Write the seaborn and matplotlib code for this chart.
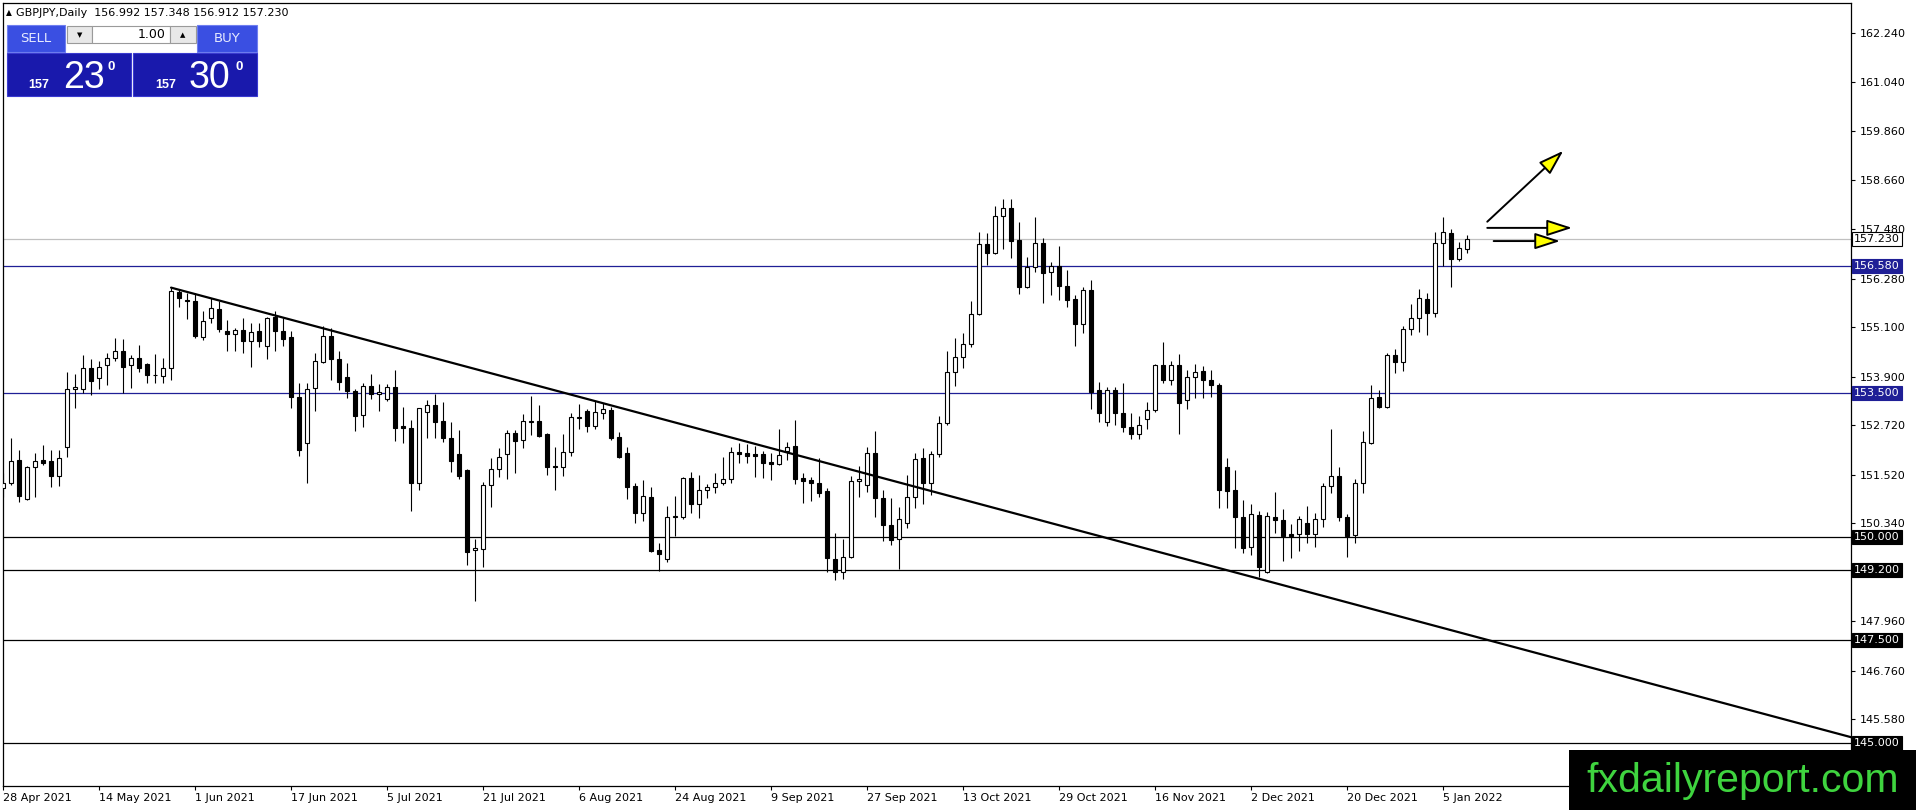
import numpy as np
import pandas as pd
import matplotlib
matplotlib.use("Agg")
import matplotlib.pyplot as plt
from matplotlib.patches import Rectangle
import seaborn as sns

sns.set_theme(style="white", context="notebook")
plt.rcParams["font.family"] = ["DejaVu Sans"]

# ---------------- data (GBPJPY daily) ----------------
opens = [151.19, 151.31, 151.88, 150.94, 151.71, 151.88, 151.85, 151.49, 152.18, 153.60,
         153.59, 154.10, 153.86, 154.17, 154.34, 154.52, 154.17, 154.34, 154.21, 153.93,
         153.92, 154.10, 155.96, 155.76, 155.73, 154.87, 155.32, 155.53, 155.01, 154.93,
         155.03, 154.77, 155.01, 154.65, 155.35, 155.01, 154.85, 153.40, 152.28, 153.62,
         154.26, 154.89, 154.32, 153.88, 153.56, 152.97, 153.68, 153.47, 153.35, 153.64,
         152.71, 152.65, 151.33, 153.05, 153.21, 152.82, 152.40, 152.01, 151.63, 149.70,
         149.71, 151.27, 151.65, 152.02, 152.52, 152.36, 152.81, 152.82, 152.51, 151.72,
         151.71, 152.06, 152.90, 153.07, 152.71, 153.02, 153.09, 152.43, 152.04, 151.24,
         150.58, 150.97, 149.69, 149.47, 150.49, 150.49, 151.43, 150.80, 151.16, 151.23,
         151.31, 151.41, 152.06, 152.04, 152.02, 152.01, 151.83, 151.77, 152.10, 152.22,
         151.43, 151.39, 151.33, 151.12, 149.47, 149.17, 149.51, 151.37, 151.27, 152.04,
         150.96, 150.31, 149.95, 150.34, 150.97, 151.92, 151.31, 152.01, 152.78, 154.02,
         154.37, 154.68, 155.41, 157.11, 156.91, 157.80, 157.99, 157.22, 156.08, 156.55,
         157.14, 156.43, 156.59, 156.10, 155.78, 155.17, 156.00, 153.57, 152.81, 153.57,
         153.01, 152.68, 152.51, 152.86, 153.09, 154.18, 153.82, 154.18, 153.33, 153.88,
         154.04, 153.83, 153.69, 151.70, 151.15, 150.49, 149.76, 150.54, 149.17, 150.49,
         150.42, 150.08, 150.08, 150.34, 150.08, 150.44, 151.24, 151.49, 150.49, 150.06,
         151.33, 152.30, 153.40, 153.17, 154.42, 154.26, 155.05, 155.32, 155.78, 155.44,
         157.14, 157.38, 156.75, 156.992]
highs = [151.56, 152.40, 152.12, 151.74, 152.05, 152.24, 152.12, 152.12, 154.02, 153.96,
         154.42, 154.32, 154.29, 154.47, 154.83, 154.81, 154.42, 154.67, 154.22, 154.45,
         154.34, 156.06, 156.00, 155.94, 155.92, 155.50, 155.80, 155.74, 155.27, 155.07,
         155.32, 155.19, 155.19, 155.35, 155.49, 155.32, 155.01, 153.75, 153.74, 154.47,
         155.13, 155.07, 154.51, 154.22, 153.59, 153.74, 153.96, 153.71, 153.72, 154.06,
         153.16, 152.85, 153.13, 153.33, 153.48, 153.29, 152.81, 152.60, 151.65, 149.97,
         151.35, 151.92, 152.16, 152.60, 152.60, 152.99, 153.43, 153.21, 152.52, 152.20,
         152.51, 153.01, 153.24, 153.11, 153.31, 153.27, 153.17, 152.56, 152.20, 151.33,
         151.40, 151.21, 149.87, 150.76, 151.00, 151.46, 151.59, 151.51, 151.29, 151.57,
         151.96, 152.20, 152.30, 152.27, 152.22, 152.09, 152.04, 152.62, 152.32, 152.85,
         151.57, 151.47, 151.92, 151.19, 150.11, 149.95, 151.49, 151.73, 152.20, 152.59,
         151.15, 150.95, 150.73, 151.51, 152.05, 152.17, 152.10, 152.94, 154.51, 154.83,
         154.95, 155.74, 157.42, 157.39, 158.04, 158.20, 158.20, 157.66, 156.80, 157.78,
         157.26, 156.69, 157.08, 156.49, 155.88, 156.08, 156.25, 153.76, 153.64, 153.64,
         153.74, 153.01, 152.94, 153.29, 154.21, 154.75, 154.29, 154.45, 154.06, 154.21,
         154.16, 154.06, 153.74, 151.92, 151.63, 150.90, 150.81, 150.65, 150.62, 151.11,
         150.68, 150.32, 150.52, 150.76, 150.58, 151.31, 152.62, 151.71, 150.57, 151.41,
         152.59, 153.70, 153.57, 154.47, 154.56, 155.13, 155.66, 156.02, 155.92, 157.42,
         157.78, 157.48, 157.17, 157.348]
lows = [150.98, 151.27, 150.86, 150.90, 150.99, 151.75, 151.23, 151.25, 151.96, 153.13,
        153.51, 153.45, 153.59, 153.70, 154.29, 153.51, 153.62, 154.02, 153.75, 153.75,
        153.75, 153.82, 155.58, 155.29, 154.83, 154.79, 155.21, 154.99, 154.53, 154.53,
        154.47, 154.13, 154.63, 154.32, 154.53, 154.64, 153.13, 151.98, 151.31, 153.07,
        154.22, 153.82, 153.57, 153.37, 152.59, 152.67, 153.35, 153.07, 153.32, 152.34,
        152.28, 150.65, 151.15, 152.40, 152.40, 152.32, 151.59, 151.41, 149.33, 148.46,
        149.29, 150.73, 151.47, 151.41, 151.57, 152.17, 152.48, 152.43, 151.51, 151.15,
        151.49, 151.97, 152.63, 152.56, 152.63, 152.86, 152.36, 151.92, 150.92, 150.34,
        150.40, 149.65, 149.19, 149.41, 150.03, 150.44, 150.60, 150.46, 150.95, 151.07,
        151.27, 151.33, 151.80, 151.80, 151.47, 151.43, 151.39, 151.75, 151.88, 151.29,
        150.83, 150.87, 150.99, 149.17, 148.96, 149.00, 149.49, 150.99, 151.11, 150.50,
        149.90, 149.81, 149.22, 150.22, 150.70, 150.80, 151.03, 151.96, 152.72, 153.67,
        154.10, 154.63, 155.40, 156.61, 156.88, 157.00, 156.77, 155.91, 156.04, 156.45,
        155.69, 155.88, 155.76, 155.60, 154.64, 154.95, 153.11, 152.81, 152.70, 152.73,
        152.56, 152.38, 152.38, 152.62, 153.03, 153.74, 153.70, 152.51, 153.11, 153.37,
        153.37, 153.40, 150.70, 150.70, 149.73, 149.61, 149.57, 149.04, 149.14, 150.11,
        149.43, 149.49, 149.67, 149.87, 149.76, 150.26, 151.08, 150.40, 149.51, 149.87,
        151.08, 152.26, 153.13, 153.13, 153.99, 154.04, 154.91, 154.99, 154.91, 155.34,
        156.58, 156.08, 156.71, 156.912]
closes = [151.31, 151.86, 151.00, 151.70, 151.86, 151.81, 151.50, 151.92, 153.60, 153.64,
          154.10, 153.80, 154.13, 154.34, 154.52, 154.14, 154.34, 154.12, 153.94, 153.95,
          154.10, 155.98, 155.80, 155.74, 154.89, 155.25, 155.56, 155.06, 154.93, 155.03,
          154.77, 154.98, 154.77, 155.32, 155.01, 154.81, 153.40, 152.12, 153.59, 154.29,
          154.89, 154.32, 153.78, 153.56, 152.95, 153.68, 153.47, 153.53, 153.64, 152.65,
          152.65, 151.33, 153.13, 153.21, 152.81, 152.40, 151.86, 151.49, 149.65, 149.73,
          151.27, 151.65, 151.94, 152.52, 152.34, 152.82, 152.83, 152.47, 151.71, 151.70,
          152.06, 152.91, 152.92, 152.71, 153.03, 153.11, 152.42, 151.96, 151.23, 150.58,
          151.00, 149.67, 149.59, 150.49, 150.51, 151.43, 150.80, 151.16, 151.21, 151.31,
          151.41, 152.06, 152.01, 151.98, 151.98, 151.81, 151.77, 152.00, 152.18, 151.41,
          151.37, 151.33, 151.07, 149.49, 149.17, 149.51, 151.37, 151.41, 152.04, 150.95,
          150.31, 149.93, 150.44, 150.97, 151.89, 151.31, 152.01, 152.78, 154.02, 154.37,
          154.68, 155.41, 157.11, 156.91, 157.80, 157.99, 157.18, 156.08, 156.55, 157.14,
          156.42, 156.58, 156.11, 155.76, 155.17, 156.00, 153.53, 153.02, 153.57, 153.01,
          152.67, 152.51, 152.72, 153.09, 154.18, 153.82, 154.18, 153.27, 153.88, 154.02,
          153.83, 153.69, 151.16, 151.13, 150.50, 149.73, 150.57, 149.27, 150.52, 150.41,
          150.03, 150.03, 150.44, 150.07, 150.44, 151.24, 151.49, 150.50, 150.03, 151.33,
          152.31, 153.37, 153.16, 154.42, 154.26, 155.05, 155.32, 155.80, 155.44, 157.14,
          157.40, 156.75, 157.01, 157.230]

date_labels = ["28 Apr 2021", "14 May 2021", "1 Jun 2021", "17 Jun 2021", "5 Jul 2021",
               "21 Jul 2021", "6 Aug 2021", "24 Aug 2021", "9 Sep 2021", "27 Sep 2021",
               "13 Oct 2021", "29 Oct 2021", "16 Nov 2021", "2 Dec 2021", "20 Dec 2021",
               "5 Jan 2022"]
bars_per_label = 12
price_ticks = [162.24, 161.04, 159.86, 158.66, 157.48, 156.28, 155.10, 153.90,
               152.72, 151.52, 150.34, 147.96, 146.76, 145.58]
blue_levels = [156.58, 153.50]
black_levels = [150.00, 149.20, 147.50, 145.00]
bid_price = 157.230
header = "GBPJPY,Daily  156.992 157.348 156.912 157.230"
# trendline anchors (bar index, price)
trend_x = [21, 143]
trend_y = [156.06, 149.72]
# analyst arrows: (tail bar, tail price, tip bar, tip price)
arrows = [(185.5, 157.66, 195.0, 159.38),
          (185.5, 157.51, 196.1, 157.51),
          (186.3, 157.19, 194.6, 157.19)]

# ---------------- figure ----------------
W, H = 1916, 810
fig = plt.figure(figsize=(W / 100, H / 100), dpi=100)
fig.patch.set_facecolor("white")
ax = fig.add_axes([2.7 / W, 24 / H, (1851 - 2.7) / W, (807 - 24) / H])
ax.set_facecolor("white")

n = len(opens)
df = pd.DataFrame({"bar": np.arange(n), "open": opens, "high": highs,
                   "low": lows, "close": closes})
df["bull"] = df["close"] >= df["open"]
df["body_lo"] = df[["open", "close"]].min(axis=1)
df["body_h"] = (df["close"] - df["open"]).abs().clip(lower=0.004)

ax.set_xlim(-0.04, 230.96)
ax.set_ylim(143.964, 162.968)

# horizontal levels
for lv in blue_levels:
    ax.axhline(lv, color="#1f1f96", lw=0.9, zorder=1)
for lv in black_levels:
    ax.axhline(lv, color="black", lw=0.9, zorder=1)
ax.axhline(bid_price, color="#c0c0c0", lw=0.9, zorder=1)

# candles
ax.vlines(df["bar"], df["low"], df["high"], color="black", lw=0.8, zorder=3)
bull = df[df["bull"]]
bear = df[~df["bull"]]
ax.bar(bull["bar"], bull["body_h"], bottom=bull["body_lo"], width=0.56,
       color="white", edgecolor="black", linewidth=0.8, zorder=4)
ax.bar(bear["bar"], bear["body_h"], bottom=bear["body_lo"], width=0.56,
       color="black", edgecolor="black", linewidth=0.8, zorder=4)

# trendline (ray from first anchor to the right edge)
slope = (trend_y[1] - trend_y[0]) / (trend_x[1] - trend_x[0])
x_end = ax.get_xlim()[1] + 5
sns.lineplot(x=[trend_x[0], x_end], y=[trend_y[0], trend_y[0] + slope * (x_end - trend_x[0])],
             color="black", lw=1.6, ax=ax, zorder=5)

# arrows
for tx, ty, hx, hy in arrows:
    ax.annotate("", xy=(hx, hy), xytext=(tx, ty),
                arrowprops=dict(arrowstyle="-|>,head_length=1.3,head_width=0.42",
                                fc="#ffff00", ec="black", lw=1.4, shrinkA=0, shrinkB=0),
                zorder=6, annotation_clip=False)

# spines
for sp in ax.spines.values():
    sp.set_visible(True)
    sp.set_color("black")
    sp.set_linewidth(0.9)

# axes ticks
ax.yaxis.tick_right()
ax.set_yticks(price_ticks)
ax.set_yticklabels([f"{v:.3f}" for v in price_ticks])
ax.tick_params(axis="y", direction="out", length=3, width=0.8, color="black",
               pad=3, labelsize=8, labelcolor="black", right=True, left=False)
ax.set_xticks(np.arange(len(date_labels)) * bars_per_label)
ax.set_xticklabels(date_labels)
for t in ax.get_xticklabels():
    t.set_horizontalalignment("left")
ax.tick_params(axis="x", direction="out", length=3, width=0.8, color="black",
               pad=2, labelsize=8, labelcolor="black", bottom=True)
ax.grid(False)

# level price labels on the right axis
trans = ax.get_yaxis_transform()
def level_label(val, fc, tc, ec):
    ax.text(1.0018, val, f"{val:.3f}", transform=trans, ha="left", va="center",
            fontsize=8, color=tc, clip_on=False, zorder=8,
            bbox=dict(boxstyle="square,pad=0.18", fc=fc, ec=ec, lw=0.8))
level_label(bid_price, "white", "black", "black")
for lv in blue_levels:
    level_label(lv, "#1f1f96", "white", "#1f1f96")
for lv in black_levels:
    level_label(lv, "black", "white", "black")

# ---------------- overlays in pixel coordinates ----------------
def prect(x0, y0, x1, y1, **kw):
    r = Rectangle((x0 / W, 1 - y1 / H), (x1 - x0) / W, (y1 - y0) / H,
                  transform=fig.transFigure, zorder=kw.pop("zorder", 20), **kw)
    fig.add_artist(r)

def ptext(x, y, s, **kw):
    fig.text(x / W, 1 - y / H, s, zorder=kw.pop("zorder", 21), **kw)

# header
ptext(6, 13, "\u25B2", fontsize=5.5, va="center", ha="left", color="black")
ptext(16, 13, header, fontsize=8, va="center", ha="left", color="black")

# one-click trading panel
btn = "#3a4fe2"
box = "#1919ac"
prect(7, 25, 65, 52, fc=btn, ec="#6f7ff0", lw=0.8)
prect(197, 25, 257, 52, fc=btn, ec="#6f7ff0", lw=0.8)
prect(67, 26, 92, 43, fc="#e8e8e8", ec="#9a9a9a", lw=0.8)
prect(92, 26, 170, 43, fc="white", ec="#9a9a9a", lw=0.8)
prect(170, 26, 196, 43, fc="#e8e8e8", ec="#9a9a9a", lw=0.8)
prect(7, 53, 131, 96, fc=box, ec="#3a3ad0", lw=0.8)
prect(133, 53, 257, 96, fc=box, ec="#3a3ad0", lw=0.8)
ptext(36, 39, "SELL", fontsize=9.5, color="#e6eaff", ha="center", va="center")
ptext(227, 39, "BUY", fontsize=9.5, color="#e6eaff", ha="center", va="center")
ptext(80, 35, "\u25BC", fontsize=5, color="black", ha="center", va="center")
ptext(183, 35, "\u25B2", fontsize=5, color="black", ha="center", va="center")
ptext(166, 35, "1.00", fontsize=9, color="black", ha="right", va="center")
for x_small, x_big, x_sup, small, big in [(28, 63, 108, "157", "23"), (155, 189, 235, "157", "30")]:
    ptext(x_small, 88, small, fontsize=9, fontweight="bold", color="white",
          ha="left", va="baseline", family=["Liberation Sans", "DejaVu Sans"])
    ptext(x_big, 88, big, fontsize=27, color="white", ha="left", va="baseline",
          family=["Liberation Sans", "DejaVu Sans"])
    ptext(x_sup, 67, "0", fontsize=9.5, fontweight="bold", color="white",
          ha="left", va="center", family=["Liberation Sans", "DejaVu Sans"])

# watermark
prect(1569, 750, 1916, 810, fc="black", ec="none", zorder=30)
ptext((1569 + 1916) / 2, 781, "fxdailyreport.com", fontsize=29.5, color="#3fd43f",
      ha="center", va="center", family=["Liberation Sans", "DejaVu Sans"], zorder=31)

fig.savefig("out.png", dpi=100, facecolor="white")
